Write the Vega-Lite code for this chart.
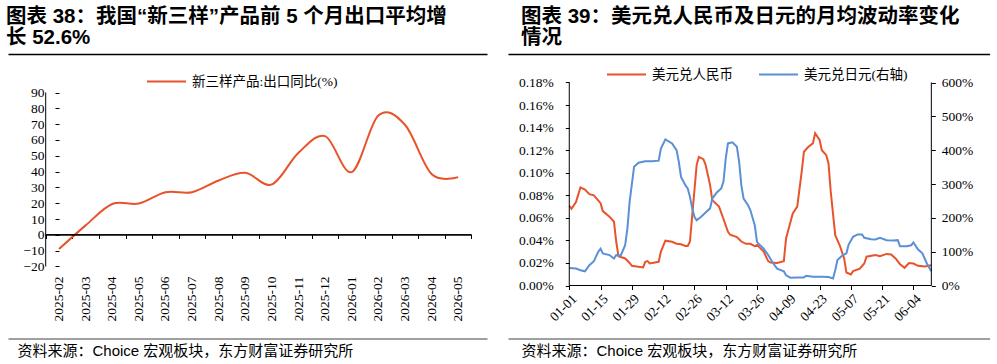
{
  "$schema": "https://vega.github.io/schema/vega-lite/v6.json",
  "padding": {"left": 6, "top": 6, "right": 0, "bottom": 0},
  "background": "white",
  "spacing": 21,
  "config": {
    "view": {"stroke": null},
    "axis": {"labelFont": "Liberation Serif", "labelFontSize": 13.5, "labelColor": "#000", "domainColor": "#000", "tickColor": "#000", "grid": false, "labelOverlap": false, "titleFont": "Liberation Sans, Noto Sans CJK SC"},
    "legend": {"padding": 0, "labelFont": "Liberation Serif, Noto Sans CJK SC", "labelFontSize": 13.5, "labelColor": "#000", "symbolType": "stroke", "symbolStrokeWidth": 2, "symbolSize": 1521, "labelOffset": 5, "orient": "none", "direction": "horizontal", "columnPadding": 22},
    "title": {"font": "Liberation Sans, Noto Sans CJK SC", "fontSize": 20.5, "fontWeight": "bold", "color": "#000", "anchor": "start", "frame": "group", "lineHeight": 21, "baseline": "bottom", "offset": 6}
  },
  "datasets": {
    "xinsanyang": [
      {"month": "2025-02", "value": -9},
      {"month": "2025-03", "value": 6},
      {"month": "2025-04", "value": 19.5},
      {"month": "2025-05", "value": 19.8},
      {"month": "2025-06", "value": 27},
      {"month": "2025-07", "value": 27},
      {"month": "2025-08", "value": 34.4},
      {"month": "2025-09", "value": 39.2},
      {"month": "2025-10", "value": 31.9},
      {"month": "2025-11", "value": 51.9},
      {"month": "2025-12", "value": 62.4},
      {"month": "2026-01", "value": 39.7},
      {"month": "2026-02", "value": 75.5},
      {"month": "2026-03", "value": 69.6},
      {"month": "2026-04", "value": 38.5},
      {"month": "2026-05", "value": 36.5}
    ],
    "cny": [
      {"date": "2026-01-01", "value": 0.0707},
      {"date": "2026-01-02", "value": 0.068},
      {"date": "2026-01-04", "value": 0.074},
      {"date": "2026-01-06", "value": 0.087},
      {"date": "2026-01-08", "value": 0.085},
      {"date": "2026-01-10", "value": 0.081},
      {"date": "2026-01-12", "value": 0.080},
      {"date": "2026-01-15", "value": 0.073},
      {"date": "2026-01-16", "value": 0.066},
      {"date": "2026-01-19", "value": 0.061},
      {"date": "2026-01-21", "value": 0.0565},
      {"date": "2026-01-22", "value": 0.039},
      {"date": "2026-01-23", "value": 0.026},
      {"date": "2026-01-26", "value": 0.024},
      {"date": "2026-01-28", "value": 0.020},
      {"date": "2026-01-29", "value": 0.0175},
      {"date": "2026-02-03", "value": 0.016},
      {"date": "2026-02-04", "value": 0.021},
      {"date": "2026-02-05", "value": 0.0216},
      {"date": "2026-02-06", "value": 0.0195},
      {"date": "2026-02-10", "value": 0.021},
      {"date": "2026-02-11", "value": 0.030},
      {"date": "2026-02-13", "value": 0.0397},
      {"date": "2026-02-16", "value": 0.0388},
      {"date": "2026-02-18", "value": 0.037},
      {"date": "2026-02-20", "value": 0.0366},
      {"date": "2026-02-22", "value": 0.035},
      {"date": "2026-02-23", "value": 0.035},
      {"date": "2026-02-24", "value": 0.039},
      {"date": "2026-02-25", "value": 0.062},
      {"date": "2026-02-27", "value": 0.107},
      {"date": "2026-02-28", "value": 0.114},
      {"date": "2026-03-02", "value": 0.112},
      {"date": "2026-03-03", "value": 0.107},
      {"date": "2026-03-05", "value": 0.089},
      {"date": "2026-03-06", "value": 0.0757},
      {"date": "2026-03-09", "value": 0.070},
      {"date": "2026-03-11", "value": 0.059},
      {"date": "2026-03-13", "value": 0.0476},
      {"date": "2026-03-14", "value": 0.045},
      {"date": "2026-03-17", "value": 0.043},
      {"date": "2026-03-19", "value": 0.039},
      {"date": "2026-03-21", "value": 0.037},
      {"date": "2026-03-23", "value": 0.037},
      {"date": "2026-03-25", "value": 0.035},
      {"date": "2026-03-26", "value": 0.036},
      {"date": "2026-03-29", "value": 0.030},
      {"date": "2026-03-31", "value": 0.0216},
      {"date": "2026-04-01", "value": 0.0204},
      {"date": "2026-04-04", "value": 0.020},
      {"date": "2026-04-07", "value": 0.0216},
      {"date": "2026-04-08", "value": 0.0417},
      {"date": "2026-04-10", "value": 0.0565},
      {"date": "2026-04-11", "value": 0.0639},
      {"date": "2026-04-13", "value": 0.070},
      {"date": "2026-04-15", "value": 0.101},
      {"date": "2026-04-16", "value": 0.1186},
      {"date": "2026-04-18", "value": 0.123},
      {"date": "2026-04-20", "value": 0.126},
      {"date": "2026-04-21", "value": 0.135},
      {"date": "2026-04-23", "value": 0.129},
      {"date": "2026-04-24", "value": 0.120},
      {"date": "2026-04-26", "value": 0.1156},
      {"date": "2026-04-27", "value": 0.108},
      {"date": "2026-04-28", "value": 0.083},
      {"date": "2026-04-30", "value": 0.0446},
      {"date": "2026-05-02", "value": 0.0357},
      {"date": "2026-05-04", "value": 0.024},
      {"date": "2026-05-05", "value": 0.0115},
      {"date": "2026-05-07", "value": 0.0098},
      {"date": "2026-05-08", "value": 0.0127},
      {"date": "2026-05-11", "value": 0.015},
      {"date": "2026-05-13", "value": 0.0195},
      {"date": "2026-05-14", "value": 0.0255},
      {"date": "2026-05-18", "value": 0.027},
      {"date": "2026-05-20", "value": 0.026},
      {"date": "2026-05-23", "value": 0.028},
      {"date": "2026-05-25", "value": 0.0275},
      {"date": "2026-05-27", "value": 0.024},
      {"date": "2026-05-29", "value": 0.0189},
      {"date": "2026-05-31", "value": 0.0157},
      {"date": "2026-06-02", "value": 0.020},
      {"date": "2026-06-04", "value": 0.0195},
      {"date": "2026-06-06", "value": 0.0175},
      {"date": "2026-06-09", "value": 0.0169},
      {"date": "2026-06-12", "value": 0.018}
    ],
    "jpy": [
      {"date": "2026-01-01", "value": 52},
      {"date": "2026-01-04", "value": 50},
      {"date": "2026-01-06", "value": 45},
      {"date": "2026-01-08", "value": 42},
      {"date": "2026-01-10", "value": 60},
      {"date": "2026-01-12", "value": 72},
      {"date": "2026-01-14", "value": 100},
      {"date": "2026-01-15", "value": 109},
      {"date": "2026-01-16", "value": 95},
      {"date": "2026-01-19", "value": 90},
      {"date": "2026-01-21", "value": 80},
      {"date": "2026-01-22", "value": 90},
      {"date": "2026-01-24", "value": 88},
      {"date": "2026-01-26", "value": 119},
      {"date": "2026-01-27", "value": 168},
      {"date": "2026-01-28", "value": 247},
      {"date": "2026-01-30", "value": 351},
      {"date": "2026-02-01", "value": 363},
      {"date": "2026-02-04", "value": 367},
      {"date": "2026-02-07", "value": 367},
      {"date": "2026-02-10", "value": 369},
      {"date": "2026-02-11", "value": 405},
      {"date": "2026-02-13", "value": 432},
      {"date": "2026-02-16", "value": 420},
      {"date": "2026-02-18", "value": 400},
      {"date": "2026-02-19", "value": 366},
      {"date": "2026-02-20", "value": 321},
      {"date": "2026-02-22", "value": 296},
      {"date": "2026-02-23", "value": 287},
      {"date": "2026-02-24", "value": 262},
      {"date": "2026-02-25", "value": 228},
      {"date": "2026-02-26", "value": 203},
      {"date": "2026-02-27", "value": 193},
      {"date": "2026-03-01", "value": 203},
      {"date": "2026-03-03", "value": 216},
      {"date": "2026-03-05", "value": 228},
      {"date": "2026-03-06", "value": 257},
      {"date": "2026-03-08", "value": 275},
      {"date": "2026-03-10", "value": 287},
      {"date": "2026-03-11", "value": 307},
      {"date": "2026-03-12", "value": 375},
      {"date": "2026-03-13", "value": 420},
      {"date": "2026-03-15", "value": 423},
      {"date": "2026-03-17", "value": 410},
      {"date": "2026-03-18", "value": 366},
      {"date": "2026-03-19", "value": 296},
      {"date": "2026-03-20", "value": 257},
      {"date": "2026-03-22", "value": 237},
      {"date": "2026-03-23", "value": 223},
      {"date": "2026-03-25", "value": 178},
      {"date": "2026-03-26", "value": 129},
      {"date": "2026-03-27", "value": 121},
      {"date": "2026-03-29", "value": 109},
      {"date": "2026-03-31", "value": 90},
      {"date": "2026-04-02", "value": 68},
      {"date": "2026-04-04", "value": 50},
      {"date": "2026-04-07", "value": 42},
      {"date": "2026-04-08", "value": 30},
      {"date": "2026-04-10", "value": 23},
      {"date": "2026-04-13", "value": 24},
      {"date": "2026-04-16", "value": 24},
      {"date": "2026-04-17", "value": 29},
      {"date": "2026-04-20", "value": 26},
      {"date": "2026-04-24", "value": 26},
      {"date": "2026-04-27", "value": 25},
      {"date": "2026-04-29", "value": 21},
      {"date": "2026-04-30", "value": 45},
      {"date": "2026-05-01", "value": 75},
      {"date": "2026-05-03", "value": 88},
      {"date": "2026-05-05", "value": 95},
      {"date": "2026-05-06", "value": 121},
      {"date": "2026-05-08", "value": 144},
      {"date": "2026-05-10", "value": 151},
      {"date": "2026-05-12", "value": 151},
      {"date": "2026-05-13", "value": 141},
      {"date": "2026-05-16", "value": 137},
      {"date": "2026-05-18", "value": 136},
      {"date": "2026-05-20", "value": 141},
      {"date": "2026-05-23", "value": 134},
      {"date": "2026-05-26", "value": 133},
      {"date": "2026-05-28", "value": 134},
      {"date": "2026-05-29", "value": 116},
      {"date": "2026-06-01", "value": 116},
      {"date": "2026-06-03", "value": 119},
      {"date": "2026-06-04", "value": 127},
      {"date": "2026-06-06", "value": 107},
      {"date": "2026-06-08", "value": 95},
      {"date": "2026-06-10", "value": 65},
      {"date": "2026-06-12", "value": 42}
    ]
  },
  "hconcat": [
    {
      "width": 479,
      "height": 284.5,
      "title": {"text": ["图表 38：我国“新三样”产品前 5 个月出口平均增", "长 52.6%"], "dx": -2},
      "layer": [
        {
          "data": {"name": "xinsanyang"},
          "mark": {"type": "line", "interpolate": "cardinal", "strokeWidth": 2},
          "encoding": {
            "x": {"field": "month", "type": "ordinal",
                  "scale": {"type": "band", "domain": ["2025-02", "2025-03", "2025-04", "2025-05", "2025-06", "2025-07", "2025-08", "2025-09", "2025-10", "2025-11", "2025-12", "2026-01", "2026-02", "2026-03", "2026-04", "2026-05"], "paddingInner": 0, "paddingOuter": 1.41523, "align": 0.70833},
                  "axis": {"orient": "bottom", "offset": -40, "domain": false, "ticks": false, "labelAngle": -90, "labelAlign": "center", "labelBaseline": "middle", "labelPadding": 0, "title": null}},
            "y": {"field": "value", "type": "quantitative",
                  "scale": {"domain": [-65.52, 114.34], "nice": false, "zero": false},
                  "axis": {"orient": "left", "offset": -51, "domain": false, "values": [-20, 0, 20, 40, 60, 80], "tickSize": 4, "labelPadding": 11, "title": null}},
            "color": {"datum": "新三样产品:出口同比(%)", "type": "nominal",
                      "scale": {"domain": ["新三样产品:出口同比(%)"], "range": ["#E8532B"]},
                      "legend": {"title": null, "legendX": 138, "legendY": 7}}
          }
        },
        {
          "data": {"values": [{"m0": "2025-02", "m1": "2026-05", "v": 0}]},
          "mark": {"type": "rule", "color": "#000", "strokeWidth": 1},
          "encoding": {
            "x": {"field": "m0", "type": "ordinal", "bandPosition": 0,
                  "axis": {"orient": "top", "offset": 0, "domain": true, "domainColor": "#000", "domainWidth": 1.5, "ticks": false, "labels": false, "title": null}},
            "x2": {"field": "m1", "bandPosition": 1},
            "y": {"field": "v", "type": "quantitative",
                  "axis": {"orient": "left", "offset": -51, "domain": false, "values": [-10, 10, 30, 50, 70, 90], "tickSize": 4, "labelPadding": 11, "title": null}}
          }
        },
        {
          "data": {"values": [{"m0": "2025-02", "m1": "2026-05", "v": 0}]},
          "mark": {"type": "rule", "color": "#000", "strokeWidth": 1},
          "encoding": {
            "x": {"field": "m0", "type": "ordinal", "bandPosition": 0,
                  "axis": {"orient": "bottom", "offset": -104, "domain": false, "ticks": true, "tickBand": "extent", "tickSize": 4, "labels": false, "title": null}},
            "x2": {"field": "m1", "bandPosition": 1},
            "y": {"field": "v", "type": "quantitative", "axis": null}
          }
        },
        {
          "data": {"values": [{"m0": "2025-02", "m1": "2026-05", "v": 0}]},
          "mark": {"type": "rule", "color": "#000", "strokeWidth": 1},
          "encoding": {
            "x": {"field": "m0", "type": "ordinal", "bandPosition": 0,
                  "axis": {"orient": "bottom", "offset": 0, "domain": true, "domainColor": "#808080", "domainWidth": 1.5, "ticks": false, "labels": false,
                           "title": "资料来源：Choice 宏观板块，东方财富证券研究所", "titleX": 9, "titleY": 12, "titleAlign": "left", "titleBaseline": "middle", "titleAngle": 0, "titleFontSize": 15, "titleFontWeight": "normal", "titleColor": "#000", "titleFont": "Liberation Sans, Noto Sans CJK SC"}},
            "x2": {"field": "m1", "bandPosition": 1},
            "y": {"field": "v", "type": "quantitative", "axis": null}
          }
        },
        {
          "data": {"values": [{"m": "2025-02", "lo": -20, "hi": 90}]},
          "mark": {"type": "rule", "color": "#000", "strokeWidth": 1},
          "encoding": {
            "x": {"field": "m", "type": "ordinal", "bandPosition": 0, "axis": null},
            "x2": {"field": "m", "bandPosition": 0},
            "y": {"field": "lo", "type": "quantitative", "axis": null},
            "y2": {"field": "hi"}
          }
        }
      ],
      "resolve": {"axis": {"x": "independent", "y": "independent"}}
    },
    {
      "width": 482,
      "height": 284.5,
      "title": {"text": ["图表 39：美元兑人民币及日元的月均波动率变化", "情况"], "dx": 13},
      "layer": [
        {
          "data": {"name": "cny"},
          "mark": {"type": "line", "strokeWidth": 2},
          "encoding": {
            "x": {"field": "date", "type": "temporal",
                  "scale": {"type": "utc", "nice": false, "domain": [{"year": 2025, "month": 12, "date": 4, "hours": 14, "utc": true}, {"year": 2026, "month": 7, "date": 8, "hours": 6, "utc": true}]},
                  "axis": {"orient": "bottom", "offset": -53, "domain": false, "title": null, "labelAngle": -45, "tickSize": 4, "labelPadding": 2,
                           "labelExpr": "utcFormat(datum.value, '%m-%d')",
                           "values": [
                             {"year": 2026, "month": 1, "date": 1, "utc": true},
                             {"year": 2026, "month": 1, "date": 15, "utc": true},
                             {"year": 2026, "month": 1, "date": 29, "utc": true},
                             {"year": 2026, "month": 2, "date": 12, "utc": true},
                             {"year": 2026, "month": 2, "date": 26, "utc": true},
                             {"year": 2026, "month": 3, "date": 12, "utc": true},
                             {"year": 2026, "month": 3, "date": 26, "utc": true},
                             {"year": 2026, "month": 4, "date": 9, "utc": true},
                             {"year": 2026, "month": 4, "date": 23, "utc": true},
                             {"year": 2026, "month": 5, "date": 7, "utc": true},
                             {"year": 2026, "month": 5, "date": 21, "utc": true},
                             {"year": 2026, "month": 6, "date": 4, "utc": true}
                           ]}},
            "y": {"field": "value", "type": "quantitative",
                  "scale": {"domain": [-0.04699, 0.20527], "nice": false, "zero": false},
                  "axis": {"orient": "left", "offset": -61.3, "domain": false, "title": null, "values": [0, 0.02, 0.04, 0.06, 0.08, 0.1, 0.12, 0.14, 0.16, 0.18], "labelExpr": "format(datum.value, '.2f') + '%'", "tickSize": 4, "labelPadding": 12}},
            "color": {"datum": "美元兑人民币", "type": "nominal",
                      "scale": {"domain": ["美元兑人民币", "美元兑日元(右轴)"], "range": ["#E8532B", "#5B8FD6"]},
                      "legend": {"title": null, "legendX": 98, "legendY": 0}}
          }
        },
        {
          "data": {"name": "jpy"},
          "mark": {"type": "line", "strokeWidth": 2},
          "encoding": {
            "x": {"field": "date", "type": "temporal", "scale": {"type": "utc"}, "axis": null},
            "y": {"field": "value", "type": "quantitative",
                  "scale": {"domain": [-156.65, 684.24], "nice": false, "zero": false},
                  "axis": {"orient": "right", "offset": -58.7, "domain": false, "title": null, "values": [0, 100, 200, 300, 400, 500, 600], "labelExpr": "datum.value + '%'", "tickSize": 4, "labelPadding": 6}},
            "color": {"datum": "美元兑日元(右轴)", "type": "nominal"}
          }
        },
        {
          "data": {"values": [{"d0": "2026-01-01", "d1": "2026-06-12", "v": 0}]},
          "mark": {"type": "rule", "color": "#000", "strokeWidth": 1},
          "encoding": {
            "x": {"field": "d0", "type": "temporal", "scale": {"type": "utc"},
                  "axis": {"orient": "top", "offset": 0, "domain": true, "domainColor": "#000", "domainWidth": 1.5, "ticks": false, "labels": false, "title": null}},
            "x2": {"field": "d1"},
            "y": {"field": "v", "type": "quantitative", "scale": {"domain": [-0.04699, 0.20527], "nice": false, "zero": false}, "axis": null}
          }
        },
        {
          "data": {"values": [{"d0": "2026-01-01", "d1": "2026-06-12", "v": 0}]},
          "mark": {"type": "rule", "color": "#000", "strokeWidth": 1},
          "encoding": {
            "x": {"field": "d0", "type": "temporal", "scale": {"type": "utc"},
                  "axis": {"orient": "bottom", "offset": 0, "domain": true, "domainColor": "#808080", "domainWidth": 1.5, "ticks": false, "labels": false,
                           "title": "资料来源：Choice 宏观板块，东方财富证券研究所", "titleX": 13, "titleY": 11.5, "titleAlign": "left", "titleBaseline": "middle", "titleAngle": 0, "titleFontSize": 15, "titleFontWeight": "normal", "titleColor": "#000", "titleFont": "Liberation Sans, Noto Sans CJK SC"}},
            "x2": {"field": "d1"},
            "y": {"field": "v", "type": "quantitative", "scale": {"domain": [-0.04699, 0.20527], "nice": false, "zero": false}, "axis": null}
          }
        },
        {
          "data": {"values": [{"d": "2026-01-01", "lo": 0, "hi": 0.18}, {"d": "2026-06-12", "lo": 0, "hi": 0.18}]},
          "mark": {"type": "rule", "color": "#000", "strokeWidth": 1},
          "encoding": {
            "x": {"field": "d", "type": "temporal", "scale": {"type": "utc"}, "axis": null},
            "x2": {"field": "d"},
            "y": {"field": "lo", "type": "quantitative", "scale": {"domain": [-0.04699, 0.20527], "nice": false, "zero": false}, "axis": null},
            "y2": {"field": "hi"}
          }
        }
      ],
      "resolve": {"scale": {"y": "independent"}, "axis": {"x": "independent", "y": "independent"}}
    }
  ],
  "resolve": {"scale": {"color": "independent"}, "legend": {"color": "independent"}}
}
